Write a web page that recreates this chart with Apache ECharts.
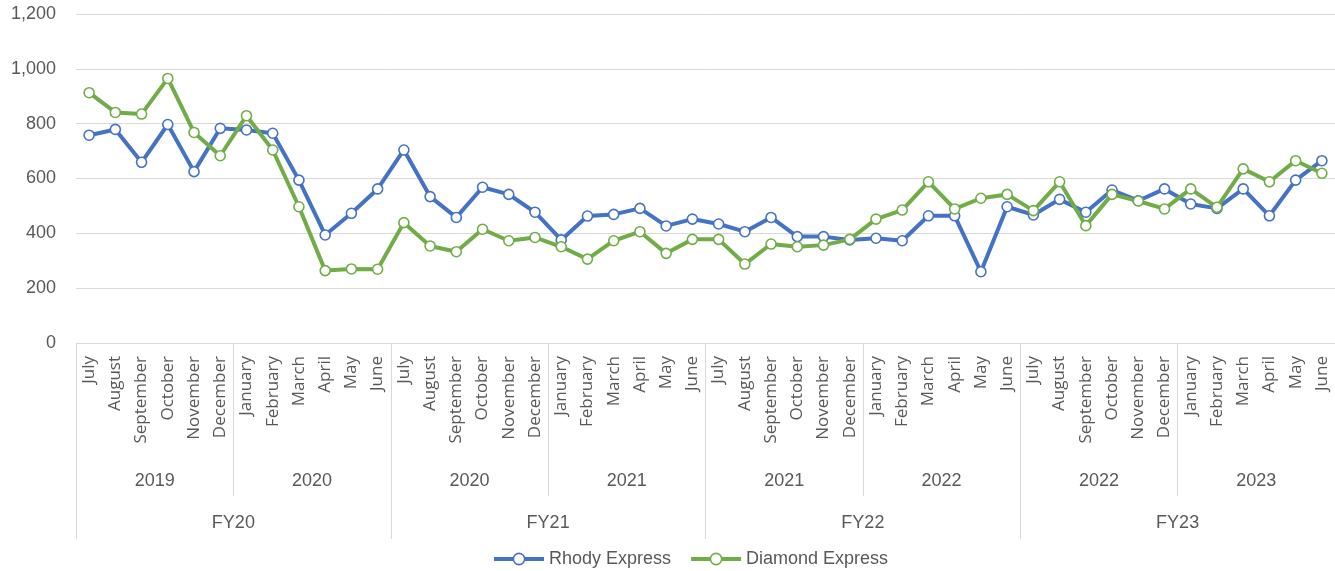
<!DOCTYPE html>
<html>
<head>
<meta charset="utf-8">
<script src="https://cdn.jsdelivr.net/npm/echarts@6/dist/echarts.min.js"></script>
<style>
  html, body { margin: 0; padding: 0; background: #fff; }
  #chart { width: 1335px; height: 571px; }
</style>
</head>
<body>
<div id="chart"></div>
<script>
// Monthly ridership, July 2019 – June 2023
const months = [
  'July','August','September','October','November','December',
  'January','February','March','April','May','June',
  'July','August','September','October','November','December',
  'January','February','March','April','May','June',
  'July','August','September','October','November','December',
  'January','February','March','April','May','June',
  'July','August','September','October','November','December',
  'January','February','March','April','May','June'
];
const years = ['2019','2020','2020','2021','2021','2022','2022','2023'];
const fiscalYears = ['FY20','FY21','FY22','FY23'];

const rhodyExpress = [
  758, 779, 659, 797, 625, 783,
  777, 765, 594, 394, 473, 562,
  704, 534, 458, 568, 542, 477,
  376, 463, 469, 491, 427, 452,
  434, 406, 458, 388, 388, 376,
  382, 373, 464, 464, 260, 497,
  467, 524, 477, 558, 519, 562,
  507, 491, 562, 464, 594, 665
];
const diamondExpress = [
  913, 841, 835, 965, 768, 683,
  829, 704, 497, 264, 270, 269,
  439, 354, 333, 415, 373, 385,
  351, 306, 373, 406, 327, 378,
  378, 288, 361, 351, 357, 378,
  452, 485, 588, 489, 528, 542,
  483, 588, 428, 542, 518, 489,
  562, 495, 635, 588, 665, 619
];

const TEXT = '#595959';
const RULE = '#d9d9d9';
const FONT = '"Liberation Sans", Arial, sans-serif';

const chart = echarts.init(document.getElementById('chart'), null, { renderer: 'canvas' });

function lineSeries(name, data, color) {
  return {
    name: name,
    type: 'line',
    data: data,
    xAxisIndex: 0,
    symbol: 'circle',
    symbolSize: 10,
    showSymbol: true,
    lineStyle: { color: color, width: 4 },
    itemStyle: { color: '#ffffff', borderColor: color, borderWidth: 1.6 },
    emphasis: { disabled: true },
    animation: false
  };
}

chart.setOption({
  animation: false,
  backgroundColor: '#ffffff',
  grid: { left: 76, right: 0, top: 14, bottom: 228, containLabel: false },
  legend: {
    left: 487,
    top: 545,
    itemWidth: 50,
    itemHeight: 14,
    itemGap: 18,
    lineStyle: { width: 4 },
    itemStyle: { borderWidth: 1.6 },
    textStyle: { color: TEXT, fontFamily: FONT, fontSize: 18 },
    data: ['Rhody Express', 'Diamond Express']
  },
  xAxis: [
    {
      type: 'category',
      data: months,
      boundaryGap: true,
      position: 'bottom',
      axisLine: { show: true, lineStyle: { color: RULE, width: 1 } },
      axisTick: { show: false },
      axisLabel: {
        interval: 0,
        rotate: 90,
        margin: 13,
        color: TEXT,
        fontFamily: '"Open Sans", sans-serif',
        fontSize: 17
      },
      splitLine: { show: false }
    },
    {
      type: 'category',
      data: years,
      boundaryGap: true,
      position: 'bottom',
      axisLine: { show: false },
      axisTick: { show: true, interval: 0, length: 153, lineStyle: { color: RULE, width: 1 } },
      axisLabel: {
        interval: 0,
        margin: 129,
        color: TEXT,
        fontFamily: FONT,
        fontSize: 18
      },
      splitLine: { show: false }
    },
    {
      type: 'category',
      data: fiscalYears,
      boundaryGap: true,
      position: 'bottom',
      axisLine: { show: false },
      axisTick: { show: true, interval: 0, length: 196, lineStyle: { color: RULE, width: 1 } },
      axisLabel: {
        interval: 0,
        margin: 171,
        color: TEXT,
        fontFamily: FONT,
        fontSize: 18
      },
      splitLine: { show: false }
    }
  ],
  yAxis: {
    type: 'value',
    min: 0,
    max: 1200,
    interval: 200,
    axisLine: { show: false },
    axisTick: { show: false },
    axisLabel: {
      margin: 20,
      color: TEXT,
      fontFamily: FONT,
      fontSize: 18,
      formatter: v => v.toLocaleString('en-US')
    },
    splitLine: { show: true, lineStyle: { color: RULE, width: 1 } }
  },
  series: [
    lineSeries('Rhody Express', rhodyExpress, '#4472c4'),
    lineSeries('Diamond Express', diamondExpress, '#70ad47')
  ]
});
</script>
</body>
</html>
